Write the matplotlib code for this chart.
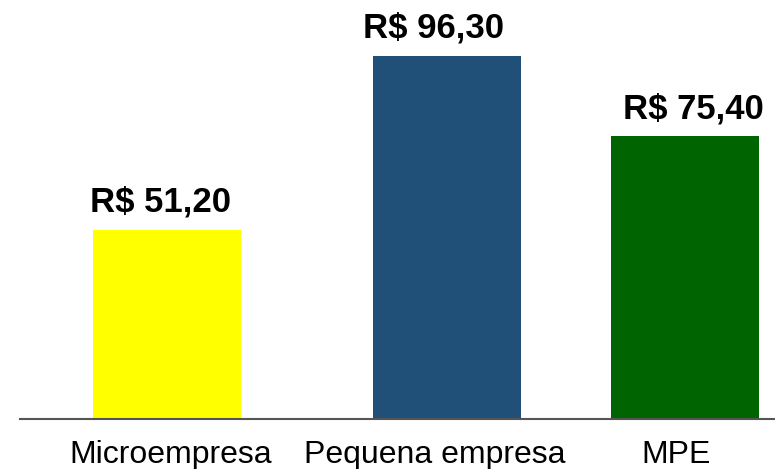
import matplotlib
matplotlib.use("Agg")
import matplotlib.pyplot as plt
from matplotlib.transforms import ScaledTranslation

categories = ["Microempresa", "Pequena empresa", "MPE"]
values = [51.20, 96.30, 75.40]
bar_labels = ["R$ 51,20", "R$ 96,30", "R$ 75,40"]
colors = ["#ffff00", "#204f78", "#006400"]

# layout: the last bar sits a bit closer than an even grid
xpos = [0, 1, 1.85]
# small horizontal nudges (pixels) seen in the original
lbl_shift = [-7, -14, 8]
tick_shift = [4, -12, -9]

plt.rcParams["font.family"] = ["Liberation Sans", "DejaVu Sans"]

fig = plt.figure(figsize=(7.75, 4.69), dpi=100)
ax = fig.add_axes([20 / 775, 50 / 469, 755 / 775, 419 / 469])

bars = ax.bar(xpos, values, width=0.53, color=colors)

for b, lbl, dx in zip(bars, bar_labels, lbl_shift):
    ax.annotate(lbl, (b.get_x() + b.get_width() / 2, b.get_height()),
                xytext=(dx * 0.72, 8), textcoords="offset points",
                ha="center", va="bottom", fontsize=25, fontweight="bold")

ax.set_xlim(-0.525, 2.171)
ax.set_ylim(2.2, 110.7)

ax.set_xticks(xpos)
ax.set_xticklabels(categories, fontsize=23)
ax.tick_params(axis="x", length=0, pad=15)
ax.set_yticks([])
for t, dx in zip(ax.get_xticklabels(), tick_shift):
    t.set_transform(t.get_transform() + ScaledTranslation(dx / 100, 0, fig.dpi_scale_trans))

for side in ["top", "right", "left"]:
    ax.spines[side].set_visible(False)
ax.spines["bottom"].set_color("#555555")
ax.spines["bottom"].set_linewidth(1.5)
ax.spines["bottom"].set_zorder(3)

fig.savefig("out.png", dpi=100)
